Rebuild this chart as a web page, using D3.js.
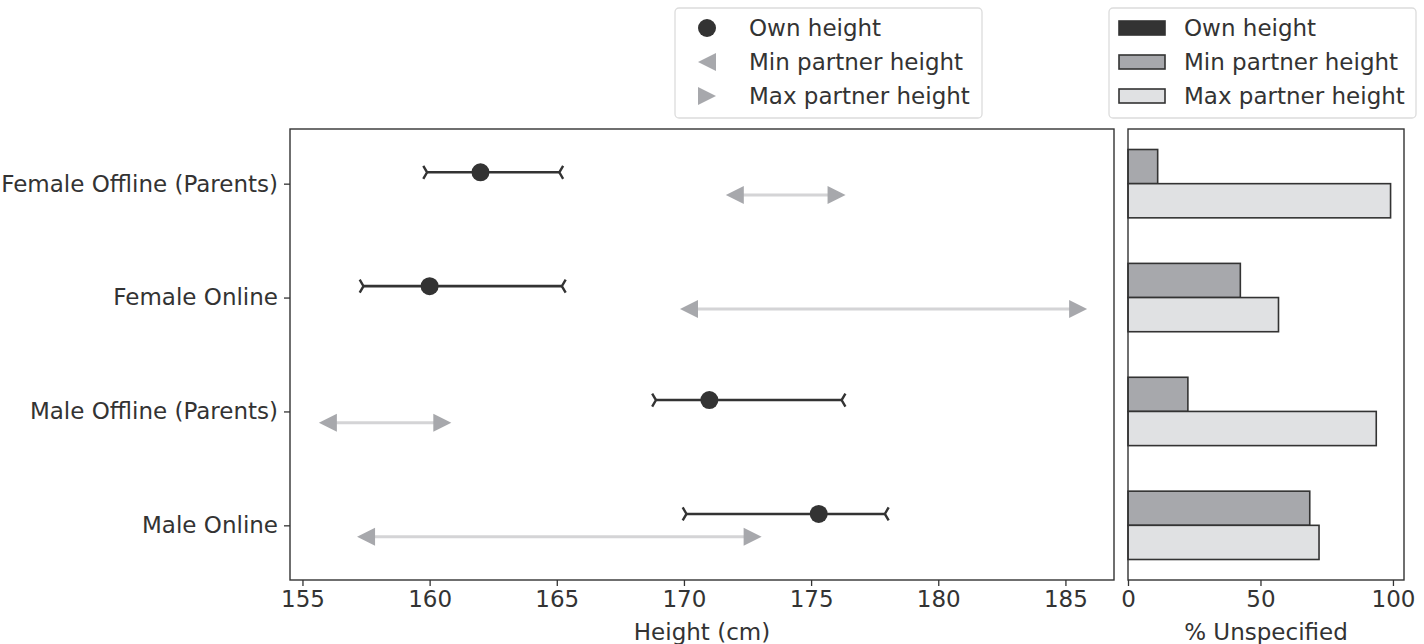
<!DOCTYPE html>
<html>
<head>
<meta charset="utf-8">
<script src="https://cdn.jsdelivr.net/npm/d3@7"></script>
<style>
  html, body { margin: 0; padding: 0; background: #fff; }
  svg { display: block; font-family: "DejaVu Sans", sans-serif; }
</style>
</head>
<body>
<svg id="chart" width="1424" height="644"></svg>
<script>
// ---- data ----
const categories = ["Female Offline (Parents)", "Female Online", "Male Offline (Parents)", "Male Online"];
const ownMean = [162.0, 160.0, 171.0, 175.3];
const ownLow = [159.9, 157.4, 168.9, 170.1];
const ownHigh = [165.1, 165.2, 176.2, 177.9];
const minPartner = [172.0, 170.2, 156.0, 157.5];
const maxPartner = [176.0, 185.5, 160.5, 172.7];
const ownUnspecified = [0, 0, 0, 0];
const minUnspecified = [11.2, 42.4, 22.6, 68.6];
const maxUnspecified = [99.1, 56.8, 93.7, 72.1];
const heightTicks = [155, 160, 165, 170, 175, 180, 185];
const pctTicks = [0, 50, 100];
const legendLabels = ["Own height", "Min partner height", "Max partner height"];

// ---- style ----
const DARK = "#333333";
const TRI = "#a7a8ac";
const LINE = "#d4d4d6";
const MINFILL = "#a7a8ac";
const MAXFILL = "#e0e1e3";
const FS = 23;

const svg = d3.select("#chart");

const L = {left: 290, right: 1114, top: 129, bottom: 580};
const R = {left: 1128, right: 1404};

const y = d3.scaleLinear().domain([-0.48, 3.48]).range([L.top, L.bottom]);
const xH = d3.scaleLinear().domain([154.51, 186.91]).range([L.left, L.right]);
const xP = d3.scaleLinear().domain([0, 104.17]).range([R.left, R.right]);

const idx = d3.range(categories.length);

// ---- left panel ----
const gL = svg.append("g");

// partner range lines
gL.selectAll("line.range").data(idx).join("line")
  .attr("x1", i => xH(minPartner[i])).attr("x2", i => xH(maxPartner[i]))
  .attr("y1", i => y(i + 0.1)).attr("y2", i => y(i + 0.1))
  .attr("stroke", LINE).attr("stroke-width", 3);

const triLeft = (cx, cy, s) => `M${cx - s/2},${cy} L${cx + s/2},${cy - s/2} L${cx + s/2},${cy + s/2} Z`;
const triRight = (cx, cy, s) => `M${cx + s/2},${cy} L${cx - s/2},${cy - s/2} L${cx - s/2},${cy + s/2} Z`;

gL.selectAll("path.minTri").data(idx).join("path")
  .attr("d", i => triLeft(xH(minPartner[i]), y(i + 0.1), 18))
  .attr("fill", TRI);
gL.selectAll("path.maxTri").data(idx).join("path")
  .attr("d", i => triRight(xH(maxPartner[i]), y(i + 0.1), 18))
  .attr("fill", TRI);

// own height error bars
gL.selectAll("line.err").data(idx).join("line")
  .attr("x1", i => xH(ownLow[i])).attr("x2", i => xH(ownHigh[i]))
  .attr("y1", i => y(i - 0.1)).attr("y2", i => y(i - 0.1))
  .attr("stroke", DARK).attr("stroke-width", 2.6);
const capL = (cx, cy) => `M${cx - 3.8},${cy - 6.5} L${cx},${cy} L${cx - 3.8},${cy + 6.5}`;
const capR = (cx, cy) => `M${cx + 3.8},${cy - 6.5} L${cx},${cy} L${cx + 3.8},${cy + 6.5}`;
gL.selectAll("path.capL").data(idx).join("path")
  .attr("d", i => capL(xH(ownLow[i]), y(i - 0.1)))
  .attr("fill", "none").attr("stroke", DARK).attr("stroke-width", 2.4);
gL.selectAll("path.capR").data(idx).join("path")
  .attr("d", i => capR(xH(ownHigh[i]), y(i - 0.1)))
  .attr("fill", "none").attr("stroke", DARK).attr("stroke-width", 2.4);
gL.selectAll("circle.own").data(idx).join("circle")
  .attr("cx", i => xH(ownMean[i])).attr("cy", i => y(i - 0.1)).attr("r", 9)
  .attr("fill", DARK);

// frame
gL.append("rect").attr("x", L.left).attr("y", L.top)
  .attr("width", L.right - L.left).attr("height", L.bottom - L.top)
  .attr("fill", "none").attr("stroke", DARK).attr("stroke-width", 1.4);

// x axis
const axB = d3.axisBottom(xH).tickValues(heightTicks).tickSize(6).tickPadding(5).tickFormat(d3.format("d"));
const gx = svg.append("g").attr("transform", `translate(0,${L.bottom})`).call(axB);
gx.select(".domain").remove();
gx.selectAll("line").attr("stroke", DARK).attr("stroke-width", 1.3);
gx.selectAll("text").attr("fill", DARK).attr("font-size", FS).attr("font-family", "DejaVu Sans");

// y axis
const axLft = d3.axisLeft(y).tickValues(idx).tickSize(6).tickPadding(6).tickFormat(i => categories[i]);
const gy = svg.append("g").attr("transform", `translate(${L.left},0)`).call(axLft);
gy.select(".domain").remove();
gy.selectAll("line").attr("stroke", DARK).attr("stroke-width", 1.3);
gy.selectAll("text").attr("fill", DARK).attr("font-size", FS).attr("font-family", "DejaVu Sans");

svg.append("text").attr("x", (L.left + L.right) / 2).attr("y", 640)
  .attr("text-anchor", "middle").attr("fill", DARK).attr("font-size", FS).text("Height (cm)");

// ---- right panel ----
const gR = svg.append("g");
const bh = 0.3;
gR.selectAll("rect.own").data(idx.filter(i => ownUnspecified[i] > 0)).join("rect")
  .attr("x", xP(0)).attr("y", i => y(i - 0.45))
  .attr("width", i => xP(ownUnspecified[i]) - xP(0)).attr("height", y(bh) - y(0))
  .attr("fill", DARK).attr("stroke", DARK).attr("stroke-width", 1.6);
gR.selectAll("rect.min").data(idx).join("rect")
  .attr("x", xP(0)).attr("y", i => y(i - bh))
  .attr("width", i => xP(minUnspecified[i]) - xP(0)).attr("height", y(bh) - y(0))
  .attr("fill", MINFILL).attr("stroke", DARK).attr("stroke-width", 1.6);
gR.selectAll("rect.max").data(idx).join("rect")
  .attr("x", xP(0)).attr("y", i => y(i))
  .attr("width", i => xP(maxUnspecified[i]) - xP(0)).attr("height", y(bh) - y(0))
  .attr("fill", MAXFILL).attr("stroke", DARK).attr("stroke-width", 1.6);

gR.append("rect").attr("x", R.left).attr("y", L.top)
  .attr("width", R.right - R.left).attr("height", L.bottom - L.top)
  .attr("fill", "none").attr("stroke", DARK).attr("stroke-width", 1.4);

const axP = d3.axisBottom(xP).tickValues(pctTicks).tickSize(6).tickPadding(5).tickFormat(d3.format("d"));
const gp = svg.append("g").attr("transform", `translate(0,${L.bottom})`).call(axP);
gp.select(".domain").remove();
gp.selectAll("line").attr("stroke", DARK).attr("stroke-width", 1.3);
gp.selectAll("text").attr("fill", DARK).attr("font-size", FS).attr("font-family", "DejaVu Sans");

svg.append("text").attr("x", (R.left + R.right) / 2).attr("y", 640)
  .attr("text-anchor", "middle").attr("fill", DARK).attr("font-size", FS).text("% Unspecified");

// ---- legends ----
const rowsY = [28, 62, 96];
// legend 1
const lg1 = svg.append("g");
lg1.append("rect").attr("x", 675).attr("y", 8).attr("width", 307).attr("height", 110)
  .attr("rx", 4).attr("fill", "#fff").attr("stroke", "#dcdcdc").attr("stroke-width", 1.3);
lg1.append("circle").attr("cx", 707).attr("cy", rowsY[0]).attr("r", 9).attr("fill", DARK);
lg1.append("path").attr("d", triLeft(707, rowsY[1], 18)).attr("fill", TRI);
lg1.append("path").attr("d", triRight(707, rowsY[2], 18)).attr("fill", TRI);
lg1.selectAll("text").data(legendLabels).join("text")
  .attr("x", 749).attr("y", (d, i) => rowsY[i]).attr("dy", "0.35em")
  .attr("fill", DARK).attr("font-size", FS).text(d => d);

// legend 2
const lg2 = svg.append("g");
lg2.append("rect").attr("x", 1109).attr("y", 8).attr("width", 307).attr("height", 110)
  .attr("rx", 4).attr("fill", "#fff").attr("stroke", "#dcdcdc").attr("stroke-width", 1.3);
const fills = [DARK, MINFILL, MAXFILL];
lg2.selectAll("rect.sw").data(fills).join("rect")
  .attr("x", 1119).attr("y", (d, i) => rowsY[i] - 7).attr("width", 46).attr("height", 14)
  .attr("fill", d => d).attr("stroke", DARK).attr("stroke-width", 1.6);
lg2.selectAll("text").data(legendLabels).join("text")
  .attr("x", 1184).attr("y", (d, i) => rowsY[i]).attr("dy", "0.35em")
  .attr("fill", DARK).attr("font-size", FS).text(d => d);
</script>
</body>
</html>
